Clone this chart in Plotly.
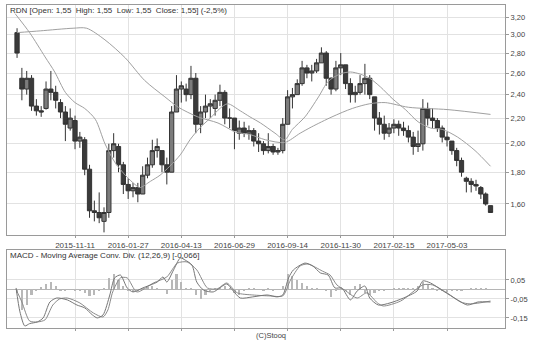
import math
import pandas as pd
import plotly.graph_objects as go

# ---------------- data ----------------
first_week = "2015-08-17"          # Monday of the first weekly candle
tick_labels = ["2015-11-11", "2016-01-27", "2016-04-13", "2016-06-29",
               "2016-09-14", "2016-11-30", "2017-02-15", "2017-05-03"]

wk_open = [3.02, 2.55, 2.45, 2.55, 2.30, 2.26, 2.28, 2.45, 2.42, 2.33,
           2.25, 2.12, 2.18, 2.02, 2.03, 1.82, 1.56, 1.55, 1.50, 1.55,
           1.95, 1.98, 1.85, 1.72, 1.68, 1.70, 1.66, 1.78, 1.85, 1.95,
           1.95, 1.85, 1.80, 2.25, 2.45, 2.45, 2.40, 2.55, 2.15, 2.25,
           2.30, 2.28, 2.35, 2.42, 2.20, 2.20, 2.08, 2.12, 2.08, 2.10,
           2.02, 2.00, 1.95, 1.98, 1.94, 1.95, 2.15, 2.38, 2.40, 2.50,
           2.65, 2.60, 2.62, 2.70, 2.80, 2.55, 2.45, 2.65, 2.68, 2.50,
           2.40, 2.42, 2.50, 2.55, 2.38, 2.20, 2.15, 2.08, 2.12, 2.15,
           2.12, 2.10, 2.05, 1.98, 2.00, 2.28, 2.20, 2.18, 2.12, 2.05,
           2.02, 1.95, 1.88, 1.76, 1.74, 1.72, 1.70, 1.66, 1.59]
wk_high = [3.07, 2.65, 2.62, 2.58, 2.36, 2.30, 2.52, 2.62, 2.48, 2.36,
           2.30, 2.28, 2.22, 2.09, 2.05, 1.85, 1.62, 1.67, 1.58, 2.00,
           2.08, 2.00, 1.87, 1.76, 1.73, 1.73, 1.84, 1.90, 2.03, 2.04,
           1.95, 1.90, 2.30, 2.58, 2.52, 2.50, 2.67, 2.60, 2.30, 2.40,
           2.36, 2.40, 2.49, 2.44, 2.28, 2.20, 2.18, 2.17, 2.14, 2.12,
           2.08, 2.02, 2.08, 2.00, 1.97, 2.20, 2.44, 2.46, 2.54, 2.72,
           2.68, 2.68, 2.74, 2.86, 2.82, 2.56, 2.72, 2.80, 2.68, 2.55,
           2.48, 2.58, 2.69, 2.58, 2.38, 2.25, 2.22, 2.16, 2.19, 2.18,
           2.17, 2.14, 2.09, 2.10, 2.36, 2.33, 2.28, 2.20, 2.14, 2.09,
           2.02, 1.97, 1.90, 1.77, 1.76, 1.75, 1.71, 1.67, 1.59]
wk_low = [2.75, 2.35, 2.40, 2.26, 2.22, 2.21, 2.27, 2.35, 2.28, 2.20,
          2.02, 2.10, 1.96, 1.97, 1.78, 1.52, 1.50, 1.49, 1.44, 1.52,
          1.90, 1.80, 1.66, 1.63, 1.64, 1.61, 1.66, 1.76, 1.83, 1.90,
          1.80, 1.72, 1.80, 2.25, 2.33, 2.34, 2.36, 2.08, 2.08, 2.20,
          2.20, 2.22, 2.30, 2.15, 2.12, 1.96, 2.03, 2.05, 2.03, 1.98,
          1.94, 1.92, 1.93, 1.92, 1.92, 1.93, 2.15, 2.28, 2.40, 2.48,
          2.55, 2.52, 2.60, 2.70, 2.48, 2.40, 2.43, 2.58, 2.45, 2.33,
          2.33, 2.40, 2.40, 2.36, 2.10, 2.07, 2.03, 2.05, 2.08, 2.06,
          2.06, 2.01, 1.92, 1.94, 1.95, 2.14, 2.12, 2.09, 2.01, 1.98,
          1.92, 1.84, 1.77, 1.67, 1.67, 1.68, 1.63, 1.59, 1.55]
wk_close = [2.80, 2.45, 2.55, 2.30, 2.26, 2.25, 2.45, 2.42, 2.35, 2.25,
            2.15, 2.20, 2.02, 2.05, 1.82, 1.56, 1.55, 1.52, 1.55, 1.95,
            2.00, 1.85, 1.72, 1.68, 1.70, 1.66, 1.78, 1.85, 1.95, 1.98,
            1.85, 1.80, 2.25, 2.45, 2.48, 2.40, 2.55, 2.15, 2.25, 2.30,
            2.32, 2.35, 2.42, 2.20, 2.20, 2.10, 2.12, 2.08, 2.10, 2.02,
            2.00, 1.95, 1.98, 1.94, 1.95, 2.15, 2.38, 2.40, 2.50, 2.65,
            2.60, 2.62, 2.70, 2.80, 2.55, 2.45, 2.65, 2.68, 2.50, 2.40,
            2.42, 2.50, 2.55, 2.40, 2.20, 2.15, 2.08, 2.12, 2.15, 2.12,
            2.10, 2.05, 1.98, 2.00, 2.28, 2.20, 2.18, 2.12, 2.05, 2.03,
            1.95, 1.88, 1.80, 1.74, 1.72, 1.71, 1.66, 1.60, 1.55]

# moving averages: trading-session number and value
ma_mid_session = [0, 15, 31, 41, 52, 62, 72, 83, 93, 103, 114, 124, 129, 140, 150,
                  160, 171, 181, 191, 202, 212, 220, 233, 243, 254, 269, 279, 287,
                  300, 314, 324, 336, 347, 357, 367, 378, 391, 404, 417, 430, 442,
                  458, 476, 492]
ma_mid_value = [3.24, 3.02, 2.76, 2.61, 2.42, 2.33, 2.28, 2.19, 2.00, 1.87, 1.78,
                1.72, 1.70, 1.74, 1.78, 1.84, 1.92, 2.03, 2.12, 2.20, 2.28, 2.32,
                2.26, 2.21, 2.16, 2.08, 2.03, 2.11, 2.21, 2.38, 2.52, 2.59, 2.61,
                2.59, 2.55, 2.47, 2.36, 2.27, 2.17, 2.12, 2.11, 2.05, 1.95, 1.84]
ma_long_session = [2, 26, 60, 74, 93, 114, 134, 155, 169, 189, 210, 228, 243, 259,
                   279, 295, 307, 328, 349, 367, 383, 407, 448, 492]
ma_long_value = [3.02, 3.04, 3.07, 3.07, 2.94, 2.75, 2.53, 2.38, 2.29, 2.21, 2.16,
                 2.09, 2.07, 2.03, 2.01, 2.08, 2.13, 2.21, 2.28, 2.32, 2.33, 2.29,
                 2.27, 2.23]

# MACD (12,26,9)
macd_session = [1, 5, 10, 15, 23, 29, 36, 43, 54, 64, 72, 80, 85, 91, 98, 103, 109,
                116, 122, 132, 147, 153, 157, 164, 171, 176, 183, 188, 195, 205,
                219, 225, 233, 246, 261, 271, 277, 283, 288, 300, 308, 316, 324,
                331, 338, 347, 354, 362, 367, 376, 388, 402, 416, 422, 430, 443,
                458, 468, 479, 492]
macd_value = [0.008, -0.118, -0.192, -0.18, -0.171, -0.15, -0.066, -0.045, -0.055,
              -0.082, -0.097, -0.134, -0.15, -0.134, -0.029, 0.061, 0.076, 0.008,
              -0.013, 0.008, 0.039, 0.066, 0.039, 0.103, 0.166, 0.155, 0.129,
              0.039, -0.003, -0.013, 0.029, -0.003, -0.045, -0.039, -0.029,
              -0.039, -0.029, 0.061, 0.103, 0.139, 0.124, 0.087, 0.076, 0.008,
              0.008, -0.055, -0.008, 0.018, -0.045, -0.082, -0.071, -0.045,
              -0.008, 0.045, 0.034, -0.008, -0.055, -0.082, -0.066, -0.066]
signal_session = [1, 7, 15, 23, 31, 39, 46, 54, 67, 81, 91, 96, 101, 109, 116, 126,
                  143, 157, 168, 178, 188, 199, 209, 219, 230, 246, 264, 277, 285,
                  295, 303, 318, 326, 333, 341, 354, 364, 375, 381, 399, 422, 432,
                  447, 461, 471, 492]
signal_value = [0.0, -0.066, -0.166, -0.171, -0.16, -0.082, -0.05, -0.045, -0.071,
                -0.124, -0.145, -0.108, -0.013, 0.061, 0.061, -0.013, 0.034, 0.066,
                0.139, 0.145, 0.103, 0.008, 0.003, 0.034, -0.018, -0.029, -0.034,
                -0.034, 0.05, 0.124, 0.134, 0.097, 0.076, 0.024, -0.003, -0.045,
                -0.018, -0.071, -0.087, -0.061, 0.024, 0.024, -0.018, -0.066,
                -0.076, -0.061]
wk_hist = [-0.02, -0.11, -0.08, -0.03, -0.005, 0.015, 0.03, 0.04, 0.02, -0.005,
           -0.01, 0.0, -0.005, -0.01, -0.02, -0.035, -0.03, -0.01, 0.01, 0.06,
           0.08, 0.05, 0.02, -0.01, -0.015, -0.005, 0.01, 0.015, 0.02, 0.01,
           0.0, -0.025, 0.05, 0.08, 0.04, 0.01, 0.005, -0.03, -0.05, -0.03,
           -0.01, 0.005, 0.01, 0.02, 0.01, -0.02, -0.03, -0.01, 0.005, 0.005,
           0.0, -0.005, 0.005, -0.005, 0.0, 0.02, 0.08, 0.07, 0.05, 0.035,
           0.02, 0.01, 0.005, 0.0, -0.01, -0.04, -0.01, 0.005, -0.01, -0.03,
           0.02, 0.03, -0.02, -0.03, -0.02, -0.01, -0.005, 0.0, 0.005, 0.01,
           0.01, 0.01, 0.005, 0.02, 0.04, 0.03, 0.01, -0.005, -0.01, -0.015,
           -0.01, -0.005, -0.005, 0.0, 0.005, 0.005, 0.005, 0.005, 0.0]

price_ticks = [1.60, 1.80, 2.00, 2.20, 2.40, 2.60, 2.80, 3.00, 3.20]
macd_ticks = [0.05, -0.05, -0.15]

title_main = "RDN [Open: 1,55  High: 1,55  Low: 1,55  Close: 1,55] (-2,5%)"
title_macd = "MACD - Moving Average Conv. Div. (12,26,9) [-0,066]"

# ---------------- build ----------------
W, H = 536, 343
sessions = pd.bdate_range(first_week, periods=5 * len(wk_close))
week_starts = pd.date_range(first_week, periods=len(wk_close), freq="W-MON")
wk_x = list(sessions.get_indexer(week_starts + pd.Timedelta(days=2)))
tick_x = list(sessions.get_indexer(pd.to_datetime(tick_labels)))

def fmt(v, n=2):
    return f"{v:.{n}f}".replace(".", ",")

FONT = "Liberation Sans, Arial, sans-serif"
GRID = "#e2e2e2"
FRAME = "#9a9a9a"

fig = go.Figure()
fig.add_trace(go.Candlestick(
    x=wk_x, open=wk_open, high=wk_high, low=wk_low, close=wk_close,
    increasing=dict(line=dict(color="#333333", width=1), fillcolor="#7c7c7c"),
    decreasing=dict(line=dict(color="#333333", width=1), fillcolor="#3a3a3a"),
    whiskerwidth=0, xaxis="x", yaxis="y", showlegend=False, hoverinfo="skip"))
fig.add_trace(go.Scatter(x=ma_long_session, y=ma_long_value, mode="lines",
                         line=dict(color="#a0a0a0", width=1, shape="spline", smoothing=0.8),
                         xaxis="x", yaxis="y", showlegend=False, hoverinfo="skip"))
fig.add_trace(go.Scatter(x=ma_mid_session, y=ma_mid_value, mode="lines",
                         line=dict(color="#a0a0a0", width=1, shape="spline", smoothing=0.8),
                         xaxis="x", yaxis="y", showlegend=False, hoverinfo="skip"))

fig.add_trace(go.Bar(x=wk_x, y=wk_hist, width=2.2, marker=dict(color="#b8b8b8", line=dict(width=0)),
                     xaxis="x2", yaxis="y2", showlegend=False, hoverinfo="skip"))
fig.add_trace(go.Scatter(x=signal_session, y=signal_value, mode="lines",
                         line=dict(color="#8a8a8a", width=1, shape="spline", smoothing=0.7),
                         xaxis="x2", yaxis="y2", showlegend=False, hoverinfo="skip"))
fig.add_trace(go.Scatter(x=macd_session, y=macd_value, mode="lines",
                         line=dict(color="#777777", width=1, shape="spline", smoothing=0.7),
                         xaxis="x2", yaxis="y2", showlegend=False, hoverinfo="skip"))

xdom = [7 / W, 505 / W]
xrange_ = [-8.4, 507]
common_x = dict(domain=xdom, range=xrange_, tickvals=tick_x, ticktext=tick_labels,
                showgrid=True, gridcolor=GRID, gridwidth=1, zeroline=False,
                showline=True, mirror=True, linecolor=FRAME, linewidth=1,
                ticks="outside", ticklen=2, tickcolor=FRAME)

fig.update_layout(
    width=W, height=H, margin=dict(l=0, r=0, t=0, b=0),
    paper_bgcolor="white", plot_bgcolor="white",
    font=dict(family=FONT, size=8, color="#444"),
    bargap=0, boxgap=0.12, boxgroupgap=0,
    xaxis=dict(**common_x, anchor="y", rangeslider=dict(visible=False),
               tickfont=dict(size=8, color="#444")),
    yaxis=dict(domain=[1 - 235 / H, 1 - 5 / H], type="log",
               range=[math.log10(1.426), math.log10(3.346)],
               side="right", anchor="x", tickvals=price_ticks,
               ticktext=[fmt(v) for v in price_ticks],
               showgrid=True, gridcolor=GRID, zeroline=False,
               showline=True, mirror=True, linecolor=FRAME,
               ticks="outside", ticklen=3, tickcolor=FRAME,
               tickfont=dict(size=7.5, color="#444")),
    xaxis2=dict(**common_x, anchor="y2", showticklabels=False),
    yaxis2=dict(domain=[1 - 328 / H, 1 - 250 / H], range=[-0.203, 0.208],
                side="right", anchor="x2", tickvals=macd_ticks,
                ticktext=[fmt(v) for v in macd_ticks],
                showgrid=True, gridcolor=GRID, zeroline=True,
                zerolinecolor="#b5b5b5", zerolinewidth=1,
                showline=True, mirror=True, linecolor=FRAME,
                ticks="outside", ticklen=3, tickcolor=FRAME,
                tickfont=dict(size=7.5, color="#444")),
    annotations=[
        dict(text=title_main, xref="paper", yref="paper", x=8 / W, y=1 - 11 / H,
             xanchor="left", yanchor="middle", showarrow=False,
             font=dict(size=8, color="#333", family=FONT)),
        dict(text=title_macd, xref="paper", yref="paper", x=8 / W, y=1 - 255 / H,
             xanchor="left", yanchor="middle", showarrow=False,
             font=dict(size=8, color="#333", family=FONT)),
        dict(text="(C)Stooq", xref="paper", yref="paper", x=271 / W, y=1 - 335 / H,
             xanchor="center", yanchor="middle", showarrow=False,
             font=dict(size=7.5, color="#444", family=FONT)),
    ],
)

fig.write_html("out.html")
